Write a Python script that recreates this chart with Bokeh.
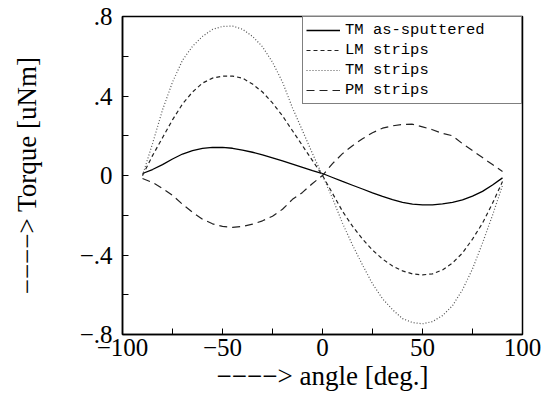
from bokeh.plotting import figure
from bokeh.models import Range1d, FixedTicker, CustomJSTickFormatter, Legend, LegendItem
from bokeh.embed import file_html
from bokeh.resources import INLINE

angle = [-90, -85, -80, -75, -70, -65, -60, -55, -50, -45, -40, -35, -30, -25, -20, -15, -10, -5, 0,
         5, 10, 15, 20, 25, 30, 35, 40, 45, 50, 55, 60, 65, 70, 75, 80, 85, 90]
tm_as_sputtered = [0.01, 0.03, 0.055, 0.083, 0.108, 0.125, 0.136, 0.141, 0.141, 0.137, 0.128, 0.117,
                   0.104, 0.089, 0.073, 0.057, 0.041, 0.025, 0.01,
                   -0.01, -0.03, -0.049, -0.068, -0.087, -0.105, -0.121, -0.135, -0.144, -0.148,
                   -0.148, -0.143, -0.135, -0.123, -0.104, -0.08, -0.048, -0.012]
lm_strips = [0.0, 0.1, 0.19, 0.28, 0.36, 0.42, 0.465, 0.49, 0.5, 0.5, 0.49, 0.46, 0.42, 0.365,
             0.3, 0.225, 0.15, 0.075, 0.0,
             -0.09, -0.18, -0.255, -0.32, -0.375, -0.42, -0.455, -0.48, -0.495, -0.5, -0.495,
             -0.475, -0.44, -0.39, -0.32, -0.24, -0.14, -0.03]
tm_strips = [0.0, 0.16, 0.33, 0.47, 0.58, 0.65, 0.7, 0.735, 0.75, 0.752, 0.736, 0.7, 0.648, 0.57,
             0.47, 0.34, 0.225, 0.11, 0.0,
             -0.115, -0.24, -0.35, -0.45, -0.545, -0.62, -0.675, -0.72, -0.74, -0.746, -0.735,
             -0.705, -0.655, -0.575, -0.47, -0.34, -0.2, -0.05]
pm_strips = [-0.015, -0.035, -0.065, -0.1, -0.145, -0.185, -0.22, -0.243, -0.256, -0.261, -0.256,
             -0.245, -0.228, -0.205, -0.17, -0.12, -0.085, -0.04, 0.0,
             0.06, 0.11, 0.15, 0.185, 0.215, 0.238, 0.25, 0.257, 0.258, 0.245, 0.23, 0.212, 0.2,
             0.16, 0.125, 0.09, 0.055, 0.02]

series_names = ["TM as-sputtered", "LM strips", "TM strips", "PM strips"]
x_ticks = [-100, -50, 0, 50, 100]
x_minor = [-75, -25, 25, 75]
y_ticks = [-0.8, -0.4, 0.0, 0.4, 0.8]
y_minor = [-0.6, -0.2, 0.2, 0.6]

p = figure(width=548, height=397, output_backend="svg", toolbar_location=None,
           x_range=Range1d(-100, 100), y_range=Range1d(-0.8, 0.8))
p.min_border_left = 122
p.min_border_right = 26
p.min_border_top = 16
p.min_border_bottom = 63
p.background_fill_color = "white"
p.border_fill_color = "white"
p.outline_line_color = "black"
p.outline_line_width = 1.5
p.xgrid.visible = False
p.ygrid.visible = False

r1 = p.line(angle, tm_as_sputtered, line_color="black", line_width=1.3)
r2 = p.line(angle, lm_strips, line_color="#222222", line_width=1.2, line_dash="4 3")
r3 = p.line(angle, tm_strips, line_color="#555555", line_width=1.2, line_dash="1 2")
r4 = p.line(angle, pm_strips, line_color="#222222", line_width=1.2, line_dash="8 5")

legend = Legend(items=[LegendItem(label=n, renderers=[r]) for n, r in zip(series_names, [r1, r2, r3, r4])],
                location="top_right")
legend.margin = 0
legend.padding = 3
legend.spacing = 0
legend.label_height = 20
legend.glyph_height = 20
legend.glyph_width = 34
legend.label_standoff = 5
legend.label_width = 173
legend.border_line_color = "black"
legend.border_line_width = 1
legend.background_fill_alpha = 1.0
legend.label_text_font = "Liberation Mono"
legend.label_text_font_size = "15.5px"
legend.label_text_color = "black"
p.add_layout(legend)

xa = p.xaxis[0]
xa.ticker = FixedTicker(ticks=x_ticks, minor_ticks=x_minor)
xa.formatter = CustomJSTickFormatter(code="""
return (tick < 0 ? "\u2212" : "") + Math.abs(tick).toFixed(0);
""")
ya = p.yaxis[0]
ya.ticker = FixedTicker(ticks=y_ticks, minor_ticks=y_minor)
ya.formatter = CustomJSTickFormatter(code="""
if (Math.abs(tick) < 1e-9) { return "0"; }
var s = Math.abs(tick).toFixed(1).replace(/^0/, "");
return (tick < 0 ? "\u2212" : "") + s;
""")

for ax in (xa, ya):
    ax.major_tick_in = 6
    ax.major_tick_out = 0
    ax.minor_tick_in = 6
    ax.minor_tick_out = 0
    ax.major_tick_line_color = "black"
    ax.minor_tick_line_color = "black"
    ax.axis_line_color = "black"
    ax.axis_line_width = 1.5
    ax.major_label_text_font = "Liberation Serif"
    ax.major_label_text_font_size = "25px"
    ax.major_label_text_color = "black"
    ax.axis_label_text_font = "Liberation Serif"
    ax.axis_label_text_font_size = "27px"
    ax.axis_label_text_font_style = "normal"
    ax.axis_label_text_color = "black"

xa.axis_label = "\u2212\u2212\u2212\u2212> angle [deg.]"
ya.axis_label = "\u2212\u2212\u2212\u2212> Torque [uNm]"
xa.major_label_standoff = 4
xa.axis_label_standoff = 2
ya.major_label_standoff = 10
ya.axis_label_standoff = 35
ya.major_label_orientation = "horizontal"

open("out.html", "w").write(file_html(p, INLINE))
